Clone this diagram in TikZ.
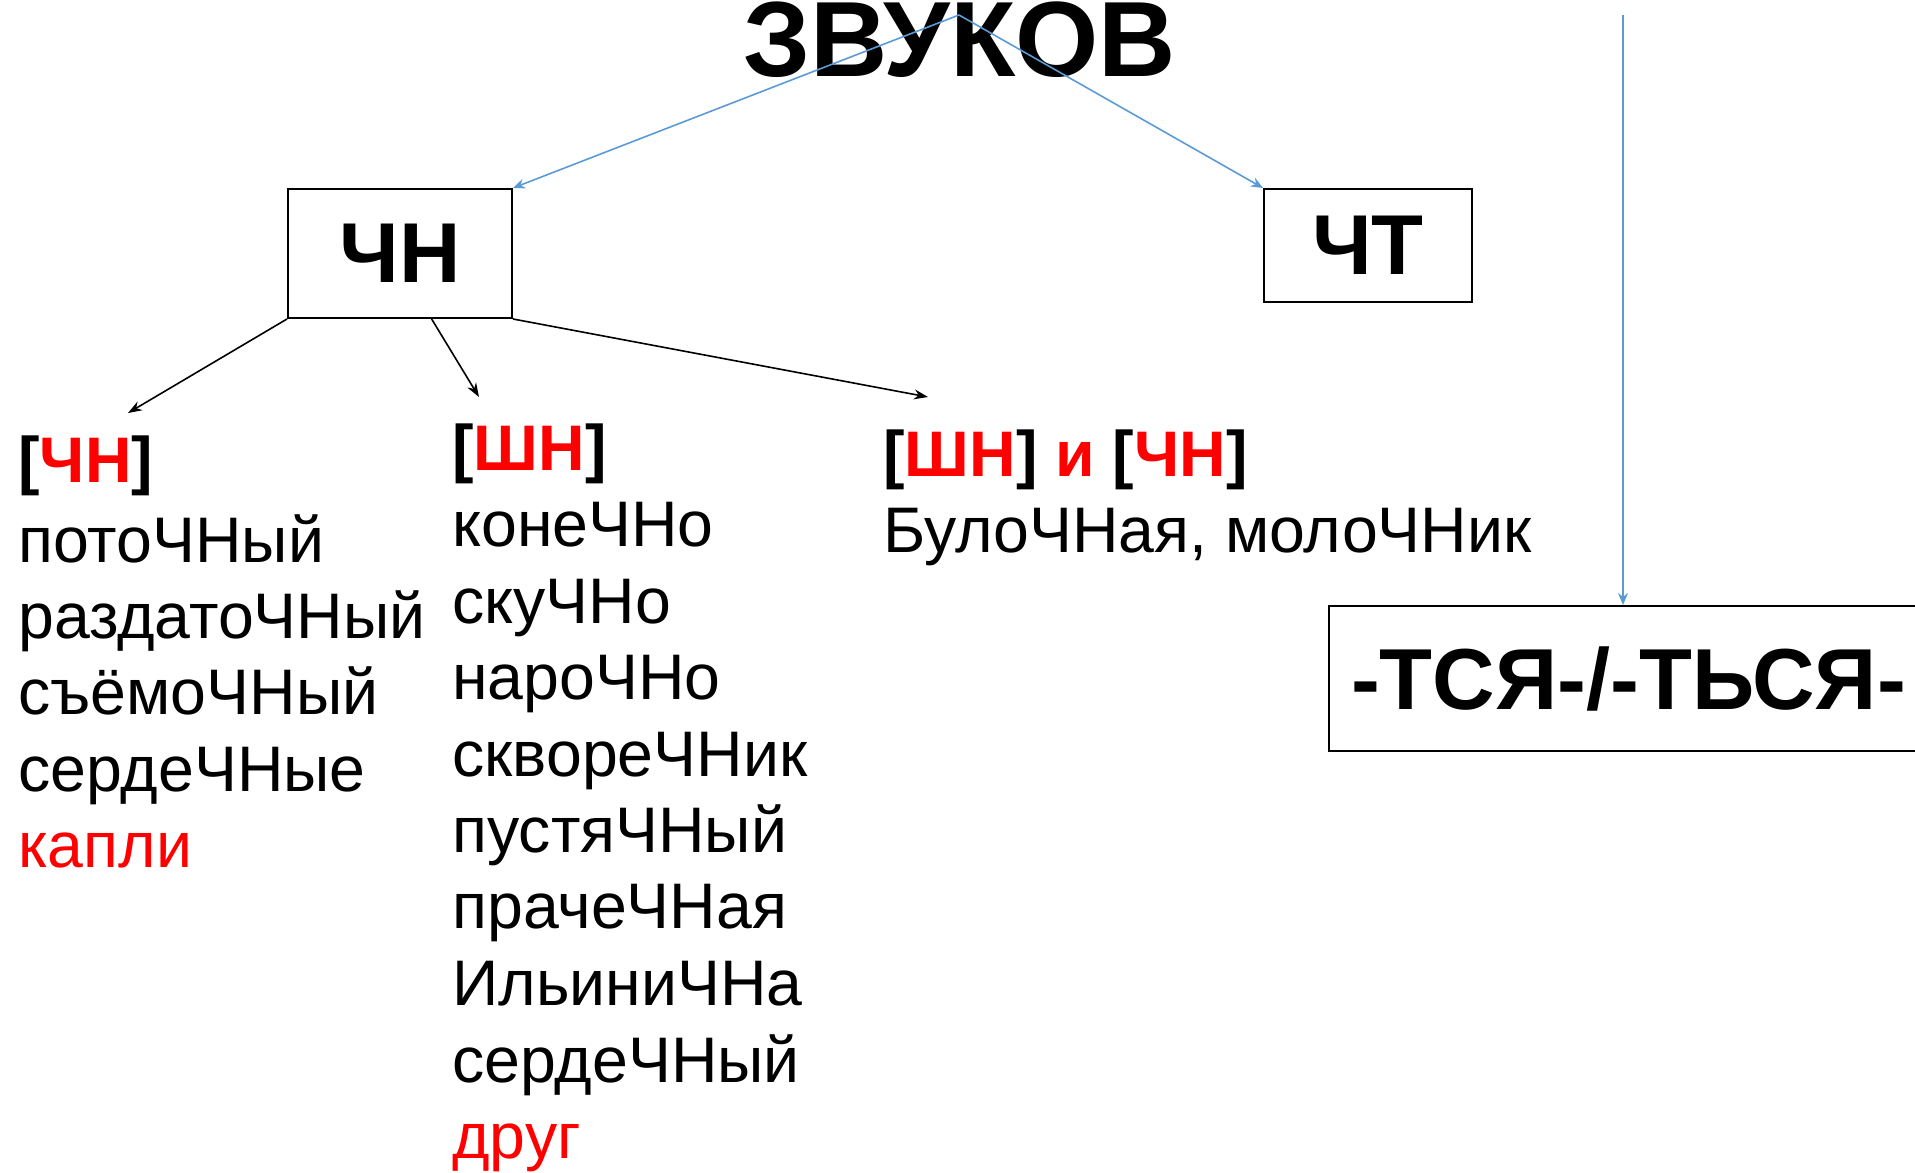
\documentclass[tikz,border=0pt]{standalone}
\usepackage{fontspec}
\setmainfont{Liberation Sans}
\usetikzlibrary{arrows.meta,calc}
\definecolor{lineblue}{HTML}{5B9BD5}
\definecolor{hired}{HTML}{FF0000}
\begin{document}
\begin{tikzpicture}[x=0.5pt,y=-0.5pt,
  word/.style={anchor=base west,inner sep=0pt,font=\fontsize{32.2}{38}\selectfont},
  head/.style={anchor=base west,inner sep=0pt,font=\fontsize{32.2}{38}\selectfont\bfseries},
  box/.style={draw=black,line width=1pt,inner sep=0pt},
  bluearrow/.style={draw=lineblue,line width=0.8pt,-{Stealth[length=6pt,width=5pt]}},
  blackarrow/.style={draw=black,line width=0.8pt,-{Stealth[length=7pt,width=5pt]}}]
\useasboundingbox (0,0) rectangle (1915,1172);
\clip (0,0) rectangle (1915,1172);
% title
\node (title) [anchor=base,inner sep=0pt,font=\fontsize{53.5}{60}\selectfont\bfseries] at (960,77) {ЗВУКОВ};
\coordinate (apex) at (959,15);
\coordinate (vtop) at (1623,15);
% boxes
\node (chn) [box,minimum width=112pt,minimum height=64.5pt,font=\fontsize{42.5}{48}\selectfont\bfseries] at (400,253.5) {ЧН};
\node (cht) [box,minimum width=104pt,minimum height=56.5pt,font=\fontsize{42.5}{48}\selectfont\bfseries] at (1368,245.5) {ЧТ};
\node (tsya) [box,anchor=north west,minimum height=72.5pt,text width=290pt,inner xsep=11pt,align=left,font=\fontsize{43.3}{50}\selectfont\bfseries] at (1328,605) {-ТСЯ-/-ТЬСЯ-};
% blue connectors
\draw[bluearrow] (apex) -- (chn.north east);
\draw[bluearrow] (apex) -- (cht.north west);
\draw[bluearrow] (vtop) -- (vtop |- tsya.north);
% black connectors
\coordinate (a1) at (128,413);
\coordinate (a2) at (479,397);
\coordinate (a3) at (928,397);
\draw[blackarrow] (chn.south west) -- (a1);
\draw[blackarrow] ($(chn.south west)!0.64!(chn.south east)$) -- (a2);
\draw[blackarrow] (chn.south east) -- (a3);
% column 1
\node (c1h) [head] at (18,482) {[\textcolor{hired}{ЧН}]};
\node (c1a) [word] at (18,562) {потоЧНый};
\node (c1b) [word] at (18,638) {раздатоЧНый};
\node (c1c) [word] at (18,714) {съёмоЧНый};
\node (c1d) [word] at (18,791) {сердеЧНые};
\node (c1e) [word,text=hired] at (18,867) {капли};
% column 2
\node (c2h) [head] at (452,470) {[\textcolor{hired}{ШН}]};
\node (c2a) [word] at (452,546) {конеЧНо};
\node (c2b) [word] at (452,623) {скуЧНо};
\node (c2c) [word] at (452,699) {нароЧНо};
\node (c2d) [word] at (452,776) {скворeЧНик};
\node (c2e) [word] at (452,852) {пустяЧНый};
\node (c2f) [word] at (452,928) {прачеЧНая};
\node (c2g) [word] at (452,1005) {ИльиниЧНа};
\node (c2h2) [word] at (452,1082) {сердеЧНый};
\node (c2i) [word,text=hired] at (452,1158) {друг};
% column 3
\node (c3h) [head] at (883,476) {[\textcolor{hired}{ШН}] \textcolor{hired}{и} [\textcolor{hired}{ЧН}]};
\node (c3a) [word] at (883,552) {БулоЧНая, молоЧНик};
\end{tikzpicture}
\end{document}
